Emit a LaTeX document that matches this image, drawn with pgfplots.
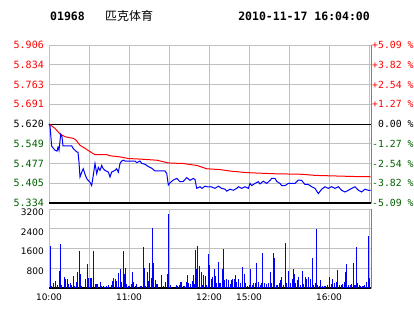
\documentclass[border=0pt]{standalone}
\usepackage{fontspec}
\setmainfont{DejaVu Sans}
\newfontfamily\monof{DejaVu Sans Mono}
\newfontfamily\cjk{Noto Sans CJK SC}
\usepackage{pgfplots}
\pgfplotsset{compat=1.18}
\definecolor{dgreen}{RGB}{0,96,0}
\definecolor{gridgray}{RGB}{192,192,192}
\definecolor{framegray}{RGB}{128,128,128}
\begin{document}
\begin{tikzpicture}
\path[use as bounding box] (0,0) rectangle (414pt,314pt);
\node[anchor=west, inner sep=0pt] at (50pt,297.3pt) {\monof\bfseries\fontsize{11.5}{12}\selectfont 01968};
\node[anchor=west, inner sep=0pt] at (105pt,297.8pt) {\cjk\fontsize{12}{12}\selectfont 匹克体育};
\node[anchor=east, inner sep=0pt] at (370pt,297.3pt) {\monof\bfseries\fontsize{11.5}{12}\selectfont 2010-11-17 16:04:00};

% ---------- price panel ----------
\begin{axis}[at={(49pt,111pt)}, anchor=south west, scale only axis,
  width=322pt, height=158pt,
  xmin=0, xmax=241.5, ymin=5.334, ymax=5.906,
  xtick={30,60,90,120,150,180,210,240}, xticklabels={},
  ytick={5.334,5.4055,5.477,5.5485,5.620,5.6915,5.763,5.8345,5.906},
  yticklabels={\textcolor{dgreen}{5.334},\textcolor{dgreen}{5.405},\textcolor{dgreen}{5.477},\textcolor{dgreen}{5.549},\textcolor{black}{5.620},\textcolor{red}{5.691},\textcolor{red}{5.763},\textcolor{red}{5.834},\textcolor{red}{5.906}},
  grid=major, major grid style={gridgray, line width=1pt},
  axis line style={gridgray, line width=1pt},
  major tick length=0pt,
  yticklabel style={font=\monof\fontsize{10}{10}\selectfont, anchor=east, inner sep=0pt, xshift=-5pt},
  clip=false]
\addplot[black, line width=1pt] coordinates {(0,5.620)(241.5,5.620)};
\addplot[black, line width=1.2pt] coordinates {(0,5.334)(241.5,5.334)};
\addplot[framegray, line width=1pt] coordinates {(241.5,5.334)(241.5,5.906)};
% average price (red)
\addplot[red, line width=1pt] coordinates {
(0,5.620)(0.75,5.618)(4.5,5.604)(8.25,5.584)(12,5.574)(18.2,5.568)(20.25,5.562)(23.25,5.543)
(28.3,5.528)(30.75,5.520)(34.5,5.509)(43.3,5.509)(45.75,5.505)(53.25,5.501)(59.5,5.495)
(68.25,5.493)(80.8,5.489)(89.5,5.479)(100.7,5.477)(110.8,5.470)(118.3,5.458)(128.25,5.455)
(137,5.449)(148.3,5.444)(168.2,5.440)(189.5,5.438)(199.5,5.434)(228.2,5.430)(241.3,5.429)};
% price (blue)
\addplot[blue, line width=1pt] coordinates {
(0,5.620)(0.75,5.613)(2,5.540)(4.5,5.525)(6,5.522)(6.75,5.536)(7.5,5.525)(8.8,5.583)(9.75,5.573)
(10.5,5.541)(17,5.541)(18.2,5.531)(20.8,5.519)(21.75,5.518)(22.5,5.482)(23.25,5.428)(24.5,5.445)
(25.7,5.458)(27,5.438)(28.3,5.422)(30.75,5.409)(32,5.397)(33.2,5.434)(34.5,5.477)(35.8,5.440)
(37,5.463)(38.25,5.452)(39.5,5.470)(40.7,5.458)(42,5.452)(44.5,5.446)(45.75,5.428)(47,5.446)
(49.5,5.452)(50.75,5.458)(52,5.446)(53.25,5.477)(54.5,5.486)(55.7,5.489)(57,5.486)(64.5,5.486)
(65.8,5.480)(68.25,5.486)(69.5,5.478)(72,5.474)(74.5,5.466)(77,5.460)(79.5,5.450)(87,5.450)
(88.3,5.441)(89.5,5.399)(90.75,5.407)(93.2,5.417)(95.8,5.423)(98.25,5.411)(100.7,5.412)
(103.3,5.426)(105.75,5.416)(108.2,5.423)(109.5,5.419)(110.8,5.387)(113.25,5.393)(114.75,5.387)
(117,5.395)(119.25,5.392)(121.5,5.393)(124.5,5.387)(127,5.395)(129.5,5.387)(132,5.384)
(133.3,5.377)(135.75,5.384)(138.2,5.380)(140.8,5.387)(142,5.393)(144.5,5.387)(147,5.393)
(149.5,5.387)(150.75,5.405)(152,5.397)(154.5,5.405)(157,5.411)(158.25,5.403)(160.7,5.413)
(163.3,5.405)(165.75,5.416)(167,5.423)(169.5,5.423)(170.8,5.412)(173.25,5.405)(174.5,5.397)
(177,5.397)(179.5,5.405)(182,5.405)(184.5,5.405)(187,5.417)(189.5,5.416)(190.75,5.408)
(192,5.401)(194.5,5.401)(197,5.393)(199.5,5.387)(202,5.368)(204.5,5.384)(207,5.393)
(209.5,5.387)(212,5.393)(214.5,5.387)(217,5.393)(219.5,5.380)(222,5.374)(224.5,5.380)
(227,5.387)(229.5,5.393)(232,5.380)(234.5,5.374)(237,5.384)(239.5,5.380)(241.3,5.380)};
\end{axis}

% ---------- right-hand percentage labels ----------
\begin{axis}[at={(49pt,111pt)}, anchor=south west, scale only axis,
  width=322pt, height=158pt,
  xmin=0, xmax=241.5, ymin=5.334, ymax=5.906,
  axis x line=none, axis y line*=right,
  axis line style={draw=none},
  major tick length=0pt,
  ytick={5.334,5.4055,5.477,5.5485,5.620,5.6915,5.763,5.8345,5.906},
  yticklabels={\textcolor{dgreen}{-5.09 \%},\textcolor{dgreen}{-3.82 \%},\textcolor{dgreen}{-2.54 \%},\textcolor{dgreen}{-1.27 \%},\textcolor{black}{\ 0.00 \%},\textcolor{red}{+1.27 \%},\textcolor{red}{+2.54 \%},\textcolor{red}{+3.82 \%},\textcolor{red}{+5.09 \%}},
  yticklabel style={font=\monof\fontsize{9.8}{10}\selectfont, anchor=west, inner sep=0pt, xshift=1pt}]
\addplot[draw=none] coordinates {(0,5.62)};
\end{axis}

% ---------- volume panel ----------
\begin{axis}[at={(49pt,26pt)}, anchor=south west, scale only axis,
  width=322pt, height=79pt,
  xmin=0, xmax=241.5, ymin=0, ymax=3200,
  xtick={0,30,60,90,120,150,180,210,240},
  xticklabels={10:00,,11:00,,12:00,15:00,,16:00,},
  ytick={800,1600,2400,3200},
  yticklabels={800,1600,2400,3200},
  grid=major, major grid style={gridgray, line width=1pt},
  axis line style={gridgray, line width=1pt},
  major tick length=0pt,
  yticklabel style={font=\fontsize{9}{9}\selectfont, anchor=east, inner sep=0pt, xshift=-5pt, yshift=-3pt},
  xticklabel style={font=\fontsize{9}{9}\selectfont, anchor=north, inner sep=0pt, yshift=-6pt},
  clip=false]
\addplot[black, line width=1.2pt] coordinates {(0,0)(241.5,0)};
\addplot[framegray, line width=1pt] coordinates {(241.5,0)(241.5,3200)};
\addplot[ycomb, blue, line width=1pt, mark=none] coordinates {
(0.75,1720)(1.75,80)(3.25,210)(5,280)(6,120)(7.75,690)(8.5,1770)(9.5,120)(11.25,430)(12.25,350)
(13.75,360)(14.5,150)(15.75,190)(16.75,120)(18.25,480)(19.25,80)(20.25,240)(21.25,640)(22.75,1480)
(23.5,560)(24.5,80)(27.25,360)(28.75,960)(29.75,400)(31,400)(32,400)(33.25,1480)(34.5,160)
(35.75,160)(36.5,160)(38.25,240)(39,100)(40.75,100)(41.75,60)(43.25,100)(44.75,130)(46.5,120)
(47.25,280)(48.25,400)(49.75,350)(50.75,290)(52.25,610)(53.25,770)(54.25,250)(55.75,1480)
(56.75,560)(57.5,800)(58.25,150)(59.5,100)(60.5,80)(61.75,150)(62.75,640)(63.5,240)(64.75,90)
(65.75,150)(68.25,80)(69.25,80)(70.75,1680)(71.5,800)(72.5,90)(73.75,640)(74.75,290)(75.25,1010)
(76.5,400)(77.5,2440)(78.25,1010)(79.5,320)(80.25,160)(81.25,160)(84.25,520)(85.75,90)(87.25,230)
(88.75,560)(89.5,3010)(90.75,120)(95.25,120)(96,100)(97.5,130)(98.5,250)(99.5,250)(100.75,100)
(101.5,90)(102.75,250)(104,520)(104.75,190)(105.75,150)(107.5,270)(108.25,520)(109,150)(110,1520)
(110.75,760)(111.5,1690)(112.75,880)(113.5,50)(114.25,650)(115.25,120)(116,520)(117.25,480)
(118.25,120)(119.25,1390)(120,920)(120.25,120)(121.75,360)(122.75,450)(123.75,790)(124.75,480)
(125.75,190)(127,1050)(127.75,190)(128.75,190)(130,790)(130.75,1560)(131.75,320)(132.75,360)
(134.5,320)(135.75,160)(136.75,320)(137.75,350)(138.75,350)(139.75,520)(140.75,250)(142,350)
(143.25,190)(145,850)(146.25,560)(147.5,190)(149,80)(150.25,120)(151.25,790)(152.25,120)
(153.25,190)(154.5,190)(155.75,1010)(157,250)(158.25,120)(159.5,190)(160.25,1410)(161.5,190)
(162.75,160)(164.25,190)(165.75,650)(167,190)(168.25,1410)(169,1230)(170.25,120)(171.5,120)
(172.75,190)(173.75,320)(174.5,450)(175.75,120)(177.25,1810)(178.25,190)(179.5,690)(180.75,190)
(182.25,350)(183.25,750)(184,560)(185,190)(186,320)(187.25,450)(188.25,120)(189.75,690)
(190.75,160)(192,430)(193.25,350)(194.5,450)(195.75,350)(197.25,1230)(198.25,120)(199.5,190)
(200.5,2390)(201.25,120)(202.5,80)(203.75,320)(205,80)(206.25,80)(207.5,80)(208.5,120)
(210.25,450)(211.5,160)(212.75,350)(214,190)(215.25,250)(216.5,720)(217.75,120)(219,120)
(220.25,160)(221.5,250)(222.5,650)(223.25,960)(224.5,120)(225.75,120)(227,160)(228.25,1010)
(229,120)(229.75,120)(230.75,1680)(231.5,190)(232.75,120)(233.75,80)(234.75,80)(235.75,80)
(236.75,120)(237.75,250)(239.5,2120)(240.25,390)};
\end{axis}
\end{tikzpicture}
\end{document}
